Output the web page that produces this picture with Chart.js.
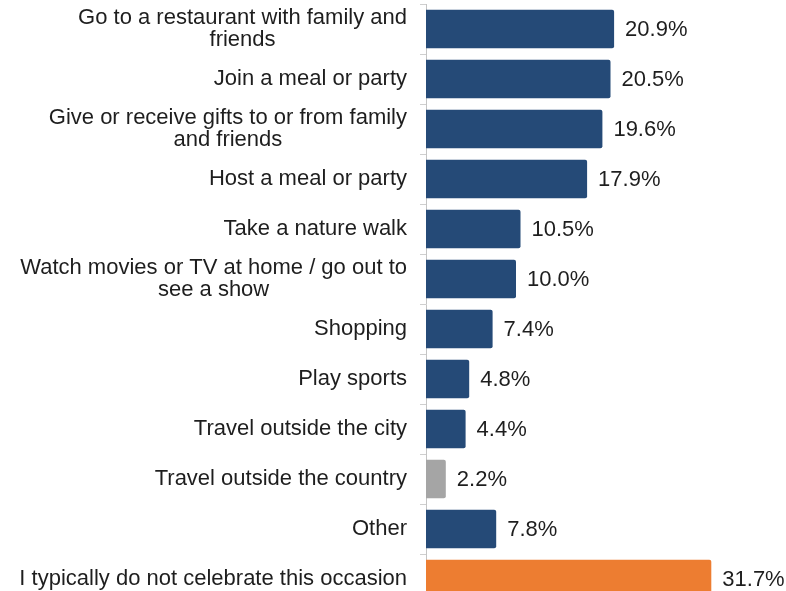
<html>
<head>
    <title>Celebration activities</title>
    <style>
        html, body { margin: 0; padding: 0; overflow: hidden; background: #fff; }
        #wrap { width: 786px; height: 605px; }
    </style>
</head>
<body>
<script src="https://cdn.jsdelivr.net/npm/chart.js"></script>

<div id="wrap">
    <canvas id="activities"></canvas>
</div>

<script>
    // answers, top to bottom
    const categories = [
        ['Go to a restaurant with family and', 'friends'],
        ['Join a meal or party'],
        ['Give or receive gifts to or from family', 'and friends'],
        ['Host a meal or party'],
        ['Take a nature walk'],
        ['Watch movies or TV at home / go out to', 'see a show'],
        ['Shopping'],
        ['Play sports'],
        ['Travel outside the city'],
        ['Travel outside the country'],
        ['Other'],
        ['I typically do not celebrate this occasion']
    ]
    const shares = [20.9, 20.5, 19.6, 17.9, 10.5, 10.0, 7.4, 4.8, 4.4, 2.2, 7.8, 31.7]
    const barColors = ['#254a77', '#254a77', '#254a77', '#254a77', '#254a77', '#254a77',
        '#254a77', '#254a77', '#254a77', '#a5a5a5', '#254a77', '#ed7d31']

    const FONT = '"Liberation Sans", Arial, sans-serif'
    const TEXT = '#1e1e1e'

    // category labels: block right-aligned, lines centred within the block
    const labelPlugin = {
        id: 'blockLabels',
        afterDraw(chart) {
            const ctx = chart.ctx
            const y = chart.scales.y
            const right = y.right - 19
            ctx.save()
            ctx.font = '22px ' + FONT
            ctx.fillStyle = TEXT
            ctx.textAlign = 'center'
            ctx.textBaseline = 'middle'
            categories.forEach((lines, i) => {
                const w = Math.max(...lines.map(l => ctx.measureText(l).width))
                const cx = right - w / 2
                const cy = y.getPixelForValue(i)
                lines.forEach((l, j) => {
                    ctx.fillText(l, cx, cy + (j - (lines.length - 1) / 2) * 22)
                })
            })
            ctx.restore()
        }
    }

    // value labels at the end of each bar
    const valuePlugin = {
        id: 'valueLabels',
        afterDatasetsDraw(chart) {
            const ctx = chart.ctx
            const meta = chart.getDatasetMeta(0)
            ctx.save()
            ctx.font = '22px ' + FONT
            ctx.fillStyle = TEXT
            ctx.textAlign = 'left'
            ctx.textBaseline = 'middle'
            meta.data.forEach((bar, i) => {
                ctx.fillText(shares[i].toFixed(1) + '%', bar.x + 11, bar.y + 1)
            })
            ctx.restore()
        }
    }

    new Chart(document.getElementById('activities'), {
        type: 'bar',
        data: {
            labels: categories,
            datasets: [{
                data: shares,
                backgroundColor: barColors,
                borderRadius: 2,
                borderSkipped: 'start',
                barPercentage: 0.77,
                categoryPercentage: 1
            }]
        },
        options: {
            indexAxis: 'y',
            responsive: true,
            maintainAspectRatio: false,
            animation: false,
            layout: { padding: { top: 4, bottom: 1, left: 0, right: 0 } },
            plugins: {
                legend: { display: false },
                tooltip: { enabled: false }
            },
            scales: {
                x: {
                    display: false,
                    min: 0,
                    max: 40
                },
                y: {
                    grid: {
                        drawOnChartArea: false,
                        tickLength: 6,
                        color: '#cfcfcf'
                    },
                    border: { color: '#c4c4c4' },
                    ticks: { display: false },
                    afterFit(scale) {
                        scale.width = 426
                    }
                }
            }
        },
        plugins: [labelPlugin, valuePlugin]
    });
</script>
</body>
</html>
